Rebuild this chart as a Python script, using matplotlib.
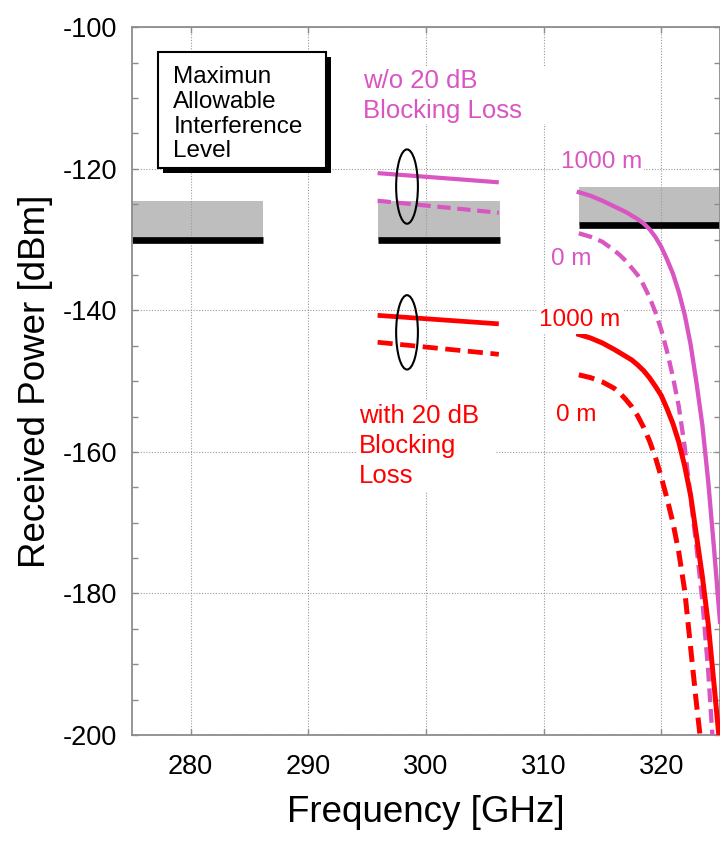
import matplotlib
matplotlib.use("Agg")
import matplotlib.pyplot as plt
from matplotlib.patches import Rectangle, Ellipse
from matplotlib.ticker import MultipleLocator

plt.rcParams['font.family'] = ['Liberation Sans', 'DejaVu Sans']
plt.rcParams['axes.unicode_minus'] = False

# ---------------- data ----------------
x_limits = (275, 325)
y_limits = (-200, -100)

# maximum allowable interference level per band
band_start = [275.0, 295.9, 313.0]
band_end = [286.2, 306.3, 325.0]
band_level = [-130.0, -130.0, -128.0]
band_top = [-124.6, -124.6, -122.6]

# 300 GHz band segments
mid_freq = [295.9, 306.2]
mid_wo_1000 = [-120.6, -121.9]
mid_wo_0 = [-124.5, -126.2]
mid_with_1000 = [-140.7, -141.9]
mid_with_0 = [-144.5, -146.2]

# upper band curves
freq_wo_1000 = [313, 314, 315, 316, 316.5, 317, 317.5, 318, 318.5, 319, 319.5,
                320, 320.5, 321, 321.5, 322, 322.5, 323, 323.5, 324, 324.5,
                325]
pow_wo_1000 = [-123.3, -123.8, -124.5, -125.3, -125.7, -126.1, -126.6, -127.1,
               -127.7, -128.5, -129.6, -131.0, -132.8, -134.8, -137.4, -140.6,
               -144.8, -150.2, -156.2, -164.2, -173.8, -184.0]

freq_wo_0 = [313, 314, 315, 316, 316.5, 317, 317.5, 318, 318.5, 319, 319.5,
             320, 320.5, 321, 321.5, 322, 322.5, 323, 323.5, 324, 324.35]
pow_wo_0 = [-129.1, -129.6, -130.3, -131.5, -132.2, -133.0, -134.0, -135.0,
            -136.4, -138.1, -140.2, -142.7, -145.8, -149.4, -153.6, -159.3,
            -166.4, -173.4, -181.0, -191.0, -200.0]

freq_with_1000 = [313, 314, 315, 316, 317, 317.5, 318, 318.5, 319, 319.5, 320,
                  320.5, 321, 321.5, 322, 322.5, 323, 323.5, 324, 324.5,
                  324.9]
pow_with_1000 = [-143.4, -143.9, -144.6, -145.5, -146.5, -147.0, -147.7,
                 -148.5, -149.5, -150.7, -152.0, -153.9, -156.0, -158.6,
                 -162.0, -166.1, -171.8, -177.6, -184.3, -193.0, -200.0]

freq_with_0 = [313, 314, 315, 316, 316.5, 317, 317.5, 318, 318.5, 319, 319.5,
               320, 320.5, 321, 321.5, 322, 322.5, 323, 323.3]
pow_with_0 = [-149.1, -149.5, -150.1, -151.0, -151.7, -152.6, -153.6, -154.9,
              -156.5, -158.4, -160.7, -163.5, -166.6, -170.0, -174.2, -179.6,
              -187.6, -195.6, -200.0]

# group markers (ellipses) around the 300 GHz segments
ellipse_x = [298.4, 298.4]
ellipse_y = [-122.5, -143.1]

box_lines = ["Maximun", "Allowable", "Interference", "Level"]
wo_lines = ["w/o 20 dB", "Blocking Loss"]
with_lines = ["with 20 dB", "Blocking", "Loss"]

# ---------------- styling ----------------
MAGENTA = '#d955c2'
RED = '#ff0000'
GRAY = '#bebebe'
SPINE = '#8c8c8c'

fig = plt.figure(figsize=(7.2, 8.41), dpi=100)
ax = fig.add_axes([0.1829, 0.1260, 0.8171, 0.8415])
ax.set_xlim(*x_limits)
ax.set_ylim(*y_limits)

# grid and ticks
ax.xaxis.set_major_locator(MultipleLocator(10))
ax.yaxis.set_major_locator(MultipleLocator(20))
ax.yaxis.set_minor_locator(MultipleLocator(5))
ax.grid(True, which='major', color='#9a9a9a', linestyle=(0, (1, 1.5)),
        linewidth=0.8)
ax.set_axisbelow(True)
ax.tick_params(which='both', direction='in', top=True, right=True,
               length=4.3, width=1.0, color=SPINE)
ax.tick_params(axis='x', labelsize=19.5, pad=13.5)
ax.tick_params(axis='y', labelsize=19.5, pad=10.5)
for sp in ax.spines.values():
    sp.set_color(SPINE)
    sp.set_linewidth(1.3)

ax.set_xlabel('Frequency [GHz]', fontsize=26.5)
ax.set_ylabel('Received Power [dBm]', fontsize=26.5)
ax.xaxis.set_label_coords(0.5, -0.085)
ax.yaxis.set_label_coords(-0.133, 0.5)

# interference level bands
for f0, f1, lvl, top in zip(band_start, band_end, band_level, band_top):
    ax.add_patch(Rectangle((f0, lvl), f1 - f0, top - lvl, facecolor=GRAY,
                           edgecolor='none', zorder=0.3))
    ax.plot([f0, f1], [lvl, lvl], color='black', linewidth=4.8,
            solid_capstyle='butt', zorder=2.5)

dash = (3.2, 1.6)
# 300 GHz band
ax.plot(mid_freq, mid_wo_1000, color=MAGENTA, linewidth=3.0,
        solid_capstyle='butt', zorder=3)
ax.plot(mid_freq, mid_wo_0, color=MAGENTA, linewidth=3.0, dashes=dash,
        dash_capstyle='butt', zorder=3)
ax.plot(mid_freq, mid_with_1000, color=RED, linewidth=3.4,
        solid_capstyle='butt', zorder=3)
ax.plot(mid_freq, mid_with_0, color=RED, linewidth=3.4, dashes=dash,
        dash_capstyle='butt', zorder=3)

# upper band
ax.plot(freq_wo_1000, pow_wo_1000, color=MAGENTA, linewidth=3.1, zorder=3,
        solid_joinstyle='round')
ax.plot(freq_wo_0, pow_wo_0, color=MAGENTA, linewidth=3.1, dashes=dash,
        dash_capstyle='butt', zorder=3)
ax.plot(freq_with_1000, pow_with_1000, color=RED, linewidth=3.6, zorder=3,
        solid_joinstyle='round')
ax.plot(freq_with_0, pow_with_0, color=RED, linewidth=3.6, dashes=dash,
        dash_capstyle='butt', zorder=3)

for ex, ey in zip(ellipse_x, ellipse_y):
    ax.add_patch(Ellipse((ex, ey), 1.85, 10.5, facecolor='none',
                         edgecolor='black', linewidth=1.5, zorder=4))

# framed note with drop shadow
bx, by, bw, bh = 277.21, -119.82, 14.34, 16.38
ax.add_patch(Rectangle((bx + 0.43, by - 0.71), bw, bh, facecolor='black',
                       edgecolor='black', linewidth=0, zorder=4))
ax.add_patch(Rectangle((bx, by), bw, bh, facecolor='white',
                       edgecolor='black', linewidth=1.5, zorder=4.1))
for txt, yb in zip(box_lines, [-107.82, -111.35, -114.96, -118.35]):
    ax.text(278.54, yb, txt, fontsize=17.5, ha='left', va='baseline',
            color='black', zorder=5)

# blocking-loss captions on white backgrounds
ax.add_patch(Rectangle((294.5, -113.6), 15.8, 8.1, facecolor='white',
                       edgecolor='none', zorder=4.5))
for txt, yb in zip(wo_lines, [-108.52, -112.75]):
    ax.text(294.68, yb, txt, fontsize=18.5, color=MAGENTA, ha='left',
            va='baseline', zorder=5)

ax.add_patch(Rectangle((294.1, -165.6), 11.8, 13.0, facecolor='white',
                       edgecolor='none', zorder=4.5))
for txt, yb in zip(with_lines, [-155.85, -160.08, -164.32]):
    ax.text(294.28, yb, txt, fontsize=18.5, color=RED, ha='left',
            va='baseline', zorder=5)

white_box = dict(facecolor='white', edgecolor='none', pad=1.5)
ax.text(311.48, -119.9, '1000 m', fontsize=17.5, color=MAGENTA, ha='left',
        va='baseline', bbox=white_box, zorder=5)
ax.text(310.63, -133.55, '0 m', fontsize=17.5, color=MAGENTA, ha='left',
        va='baseline', bbox=white_box, zorder=5)
ax.text(309.63, -142.26, '1000 m', fontsize=17.5, color=RED, ha='left',
        va='baseline', bbox=white_box, zorder=5)
ax.text(311.06, -155.67, '0 m', fontsize=17.5, color=RED, ha='left',
        va='baseline', bbox=white_box, zorder=5)

fig.savefig('out.png', dpi=100)
